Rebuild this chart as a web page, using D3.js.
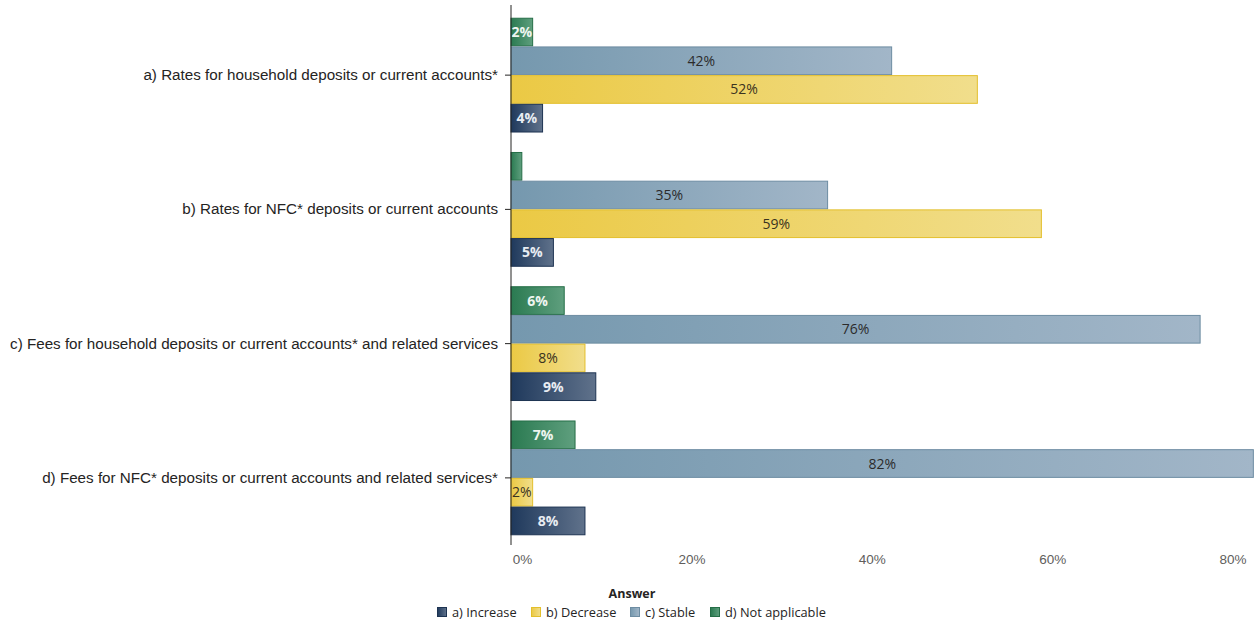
<!DOCTYPE html>
<html>
<head>
<meta charset="utf-8">
<script src="https://cdn.jsdelivr.net/npm/d3@7/dist/d3.min.js"></script>
<style>
  html, body { margin: 0; padding: 0; background: #fff; }
  svg { display: block; font-family: "Open Sans", "Noto Sans", sans-serif; }
</style>
</head>
<body>
<svg id="chart" width="1258" height="620"></svg>
<script>
// Survey questions (one group of bars each)
const categories = [
  "a) Rates for household deposits or current accounts*",
  "b) Rates for NFC* deposits or current accounts",
  "c) Fees for household deposits or current accounts* and related services",
  "d) Fees for NFC* deposits or current accounts and related services*"
];

// Answer series, drawn top to bottom inside each group
const answers = ["d) Not applicable", "c) Stable", "b) Decrease", "a) Increase"];
const legendOrder = ["a) Increase", "b) Decrease", "c) Stable", "d) Not applicable"];

// Share of respondents per answer (fractions), in category order
const notApplicable = [0.024, 0.012, 0.059, 0.071];
const stable        = [0.422, 0.351, 0.764, 0.823];
const decrease      = [0.517, 0.588, 0.082, 0.024];
const increase      = [0.035, 0.047, 0.094, 0.082];

const xTicks = [0, 0.2, 0.4, 0.6, 0.8];

const seriesValues = {
  "d) Not applicable": notApplicable,
  "c) Stable": stable,
  "b) Decrease": decrease,
  "a) Increase": increase
};

const style = {
  "a) Increase":       { from: "#1f395c", to: "#60728b", stroke: "#1d3352", text: "#e8ecf2", bold: true },
  "b) Decrease":       { from: "#ebc944", to: "#f1de8c", stroke: "#e3bf2c", text: "#3a3320", bold: false },
  "c) Stable":         { from: "#7598ae", to: "#a2b6c8", stroke: "#6d8ca2", text: "#2b2b2b", bold: false },
  "d) Not applicable": { from: "#2a7a51", to: "#5f9f7e", stroke: "#256e47", text: "#eef5f0", bold: true }
};

const svg = d3.select("#chart");
const axisX = 511;

const x = d3.scaleLinear().domain([0, 0.8]).range([axisX, axisX + 0.8 * 902]);
const y0 = d3.scaleBand().domain(categories).range([8, 545]).paddingInner(0.145).paddingOuter(0.0725);
const y1 = d3.scaleBand().domain(answers).range([0, y0.bandwidth()]);

// gradients, one per answer
const defs = svg.append("defs");
answers.forEach((a, i) => {
  const g = defs.append("linearGradient").attr("id", "grad" + i)
    .attr("x1", "0%").attr("x2", "100%").attr("y1", "0%").attr("y2", "0%");
  g.append("stop").attr("offset", "0%").attr("stop-color", style[a].from);
  g.append("stop").attr("offset", "100%").attr("stop-color", style[a].to);
});

// x axis tick labels
const xAxis = d3.axisBottom(x).tickValues(xTicks).tickFormat(d3.format(".0%")).tickSize(0);
const xg = svg.append("g").attr("transform", "translate(0,550)").call(xAxis);
xg.select(".domain").remove();
xg.selectAll("text")
  .attr("fill", "#605e5c").style("font-size", "13.5px").attr("dy", "0.85em")
  .attr("dx", d => d === 0 ? 11 : 0);

// groups
const groups = svg.append("g").selectAll("g").data(categories).join("g")
  .attr("transform", c => `translate(0,${y0(c)})`);

answers.forEach((a, ai) => {
  const vals = seriesValues[a];
  const st = style[a];
  groups.append("rect")
    .attr("x", x(0))
    .attr("y", y1(a) + 0.5)
    .attr("width", (c, i) => x(vals[i]) - x(0))
    .attr("height", y1.bandwidth() - 1)
    .attr("fill", `url(#grad${ai})`)
    .attr("stroke", st.stroke)
    .attr("stroke-width", 1);

  groups.append("text")
    .attr("x", (c, i) => (x(0) + x(vals[i])) / 2)
    .attr("y", y1(a) + y1.bandwidth() / 2)
    .attr("dy", "0.36em")
    .attr("text-anchor", "middle")
    .attr("fill", st.text)
    .style("font-size", "14px")
    .style("font-weight", st.bold ? "bold" : "normal")
    .text((c, i) => (x(vals[i]) - x(0)) > 16 ? d3.format(".0%")(vals[i]) : "");
});

// y axis (category labels, tick marks, line)
const yAxis = d3.axisLeft(y0).tickSize(6).tickPadding(7);
const yg = svg.append("g").attr("transform", `translate(${axisX},0)`).call(yAxis);
yg.select(".domain").attr("d", `M0,5V545`).attr("stroke", "#252423");
yg.selectAll(".tick line").attr("stroke", "#252423");
yg.selectAll("text").attr("fill", "#252423").style("font-size", "15.2px");

// legend
const legend = svg.append("g");
legend.append("text").attr("x", 632).attr("y", 598).attr("text-anchor", "middle")
  .style("font-size", "12.5px").style("font-weight", "bold").attr("fill", "#252423").text("Answer");
const legX = [437, 531, 630, 710];
legendOrder.forEach((a, i) => {
  const ai = answers.indexOf(a);
  const item = legend.append("g").attr("transform", `translate(${legX[i]},607)`);
  item.append("rect").attr("x", 0.5).attr("y", 0.5).attr("width", 9).attr("height", 9)
    .attr("fill", `url(#grad${ai})`).attr("stroke", style[a].stroke);
  item.append("text").attr("x", 15).attr("y", 5).attr("dy", "0.36em")
    .style("font-size", "12.8px").attr("fill", "#252423").text(a);
});
</script>
</body>
</html>
